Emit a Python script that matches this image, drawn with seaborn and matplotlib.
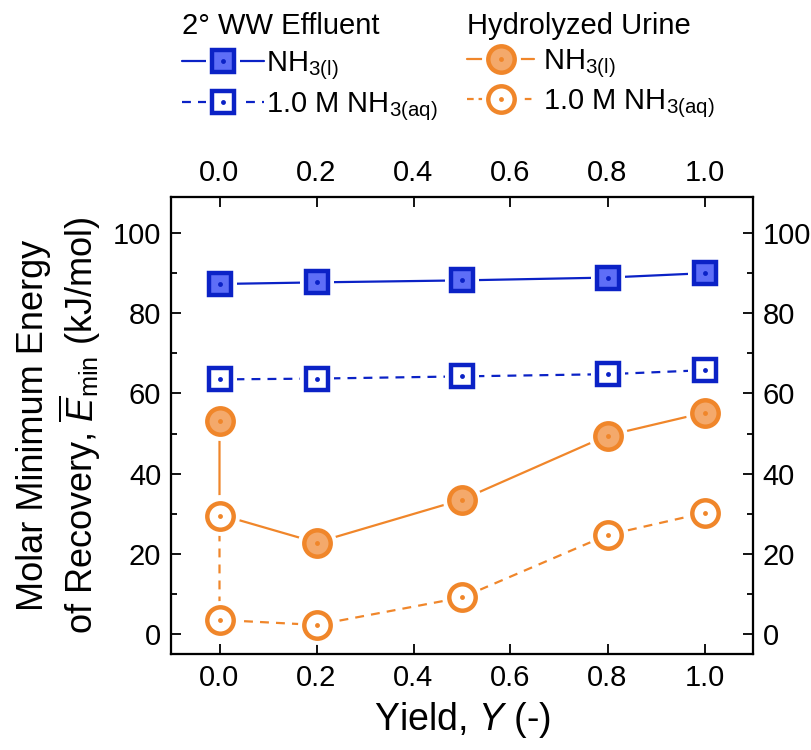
import matplotlib
matplotlib.use("Agg")
import matplotlib.pyplot as plt
import seaborn as sns
import pandas as pd
from matplotlib.lines import Line2D
from matplotlib.legend_handler import HandlerTuple
from matplotlib.ticker import MultipleLocator

# ---------------- data ----------------
ww_x = [0.0, 0.2, 0.5, 0.8, 1.0]
ww_liq = [87.3, 87.7, 88.2, 88.9, 90.0]
ww_aq = [63.5, 63.7, 64.25, 64.8, 65.8]

ur_liq_x = [0.0, 0.0, 0.2, 0.5, 0.8, 1.0]
ur_liq = [53.1, 29.8, 22.8, 33.5, 49.5, 55.2]
ur_aq_x = [0.0, 0.0, 0.2, 0.5, 0.8, 1.0]
ur_aq = [29.3, 3.5, 2.25, 9.1, 24.7, 30.2]

xticks = [0.0, 0.2, 0.4, 0.6, 0.8, 1.0]
yticks = [0, 20, 40, 60, 80, 100]

# ---------------- style ----------------
sns.set_theme(style="ticks")
plt.rcParams["font.family"] = ["Liberation Sans", "DejaVu Sans"]
plt.rcParams["mathtext.fontset"] = "custom"
plt.rcParams["mathtext.rm"] = "Liberation Sans"
plt.rcParams["mathtext.it"] = "Liberation Sans:italic"
plt.rcParams["mathtext.bf"] = "Liberation Sans:bold"
for k in ["text.color", "axes.labelcolor", "xtick.color", "ytick.color",
          "axes.edgecolor", "xtick.labelcolor", "ytick.labelcolor"]:
    plt.rcParams[k] = "black"

BLUE_E = "#0B22C6"
BLUE_F = "#5E6EF7"
OR_E = "#F0862A"
OR_F = "#F4A96B"

fig = plt.figure(figsize=(8.11, 7.5), dpi=100)
ax = fig.add_axes([171 / 811, 1 - 654 / 750, (753 - 171) / 811, (654 - 197) / 750])

LW = 1.6
DASH = (4.0, 3.2)
TICK_FS = 21

series = [
    dict(x=ww_x, y=ww_liq, ec=BLUE_E, fc=BLUE_F, m="s", ms=16, ls="solid"),
    dict(x=ww_x, y=ww_aq, ec=BLUE_E, fc="white", m="s", ms=16, ls="dashed"),
    dict(x=ur_liq_x, y=ur_liq, ec=OR_E, fc=OR_F, m="o", ms=19, ls="solid"),
    dict(x=ur_aq_x, y=ur_aq, ec=OR_E, fc="white", m="o", ms=19, ls="dashed"),
]
HALO = 9

z = 2
for s in series:
    df = pd.DataFrame({"x": s["x"], "y": s["y"]})
    sns.lineplot(data=df, x="x", y="y", sort=False, estimator=None, ax=ax,
                 color=s["ec"], lw=LW, zorder=z)
    line = ax.lines[-1]
    if s["ls"] == "dashed":
        line.set_dashes(DASH)
    # white halo for gap between line and marker
    ax.plot(s["x"], s["y"], ls="none", marker=s["m"], ms=s["ms"] + HALO,
            mfc="white", mec="white", mew=0, zorder=z + 0.1)
    ax.plot(s["x"], s["y"], ls="none", marker=s["m"], ms=s["ms"],
            mfc=s["fc"], mec=s["ec"], mew=3.2, zorder=z + 0.2)
    ax.plot(s["x"], s["y"], ls="none", marker="o", ms=3.5,
            mfc=s["ec"], mec=s["ec"], mew=0, zorder=z + 0.3)
    z += 1

ax.set_xlim(-0.1, 1.1)
ax.set_ylim(-5, 109)
ax.set_xticks(xticks)
ax.set_xticklabels([f"{t:.1f}" for t in xticks])
ax.set_yticks(yticks)
ax.yaxis.set_minor_locator(MultipleLocator(10))

ax.set_xlabel(r"Yield, $\it{Y}$ (-)", fontsize=27, labelpad=6)
ax.set_ylabel("Molar Minimum Energy\n" + r"of Recovery, $\overline{E}_{\mathrm{min}}$ (kJ/mol)",
              fontsize=26, labelpad=7, linespacing=1.15)

for sp in ax.spines.values():
    sp.set_linewidth(1.5)
    sp.set_color("black")
    sp.set_visible(True)

tick_kw = dict(direction="in", labelsize=TICK_FS, width=1.3, color="black")
ax.tick_params(axis="both", which="major", length=7, pad=7, **tick_kw)
ax.tick_params(axis="y", which="minor", length=4, width=1.3, direction="in", color="black")

axt = ax.twiny()
axt.set_xlim(ax.get_xlim())
axt.set_xticks(xticks)
axt.set_xticklabels([f"{t:.1f}" for t in xticks])
axt.tick_params(axis="x", which="major", length=7, pad=7, **tick_kw)
axt.grid(False)

axr = ax.twinx()
axr.set_ylim(ax.get_ylim())
axr.set_yticks(yticks)
axr.yaxis.set_minor_locator(MultipleLocator(10))
axr.tick_params(axis="y", which="major", length=7, pad=7, **tick_kw)
axr.tick_params(axis="y", which="minor", length=4, width=1.3, direction="in", color="black")
axr.grid(False)
for a in (axt, axr):
    for sp in a.spines.values():
        sp.set_linewidth(1.5)
        sp.set_color("black")


def make_handle(s, dash=DASH):
    ln = Line2D([], [], color=s["ec"], lw=LW)
    if s["ls"] == "dashed":
        ln.set_dashes(dash)
    halo = Line2D([], [], ls="none", marker=s["m"], ms=s["ms"] + HALO, mfc="white", mec="white", mew=0)
    mk = Line2D([], [], ls="none", marker=s["m"], ms=s["ms"], mfc=s["fc"], mec=s["ec"], mew=3.2)
    dot = Line2D([], [], ls="none", marker="o", ms=3.5, mfc=s["ec"], mec=s["ec"], mew=0)
    return (ln, halo, mk, dot)


labels = [r"NH$_{3(\mathrm{l})}$", r"1.0 M NH$_{3(\mathrm{aq})}$"]
common = dict(frameon=False, fontsize=21, title_fontsize=21, borderaxespad=0, borderpad=0,
              alignment="left", handler_map={tuple: HandlerTuple(ndivide=1)})

leg1 = fig.legend([make_handle(series[0]), make_handle(series[1])], labels,
                  title="2\u00b0 WW Effluent", loc="upper left",
                  handlelength=2.8, handletextpad=0.08, labelspacing=0.3,
                  bbox_to_anchor=(182 / 811, 1 - 12 / 750), **common)
leg2 = fig.legend([make_handle(series[2]), make_handle(series[3], dash=(3.0, 2.2))], labels,
                  title="Hydrolyzed Urine", loc="upper left",
                  handlelength=2.3, handletextpad=0.3, labelspacing=0.24,
                  bbox_to_anchor=(467 / 811, 1 - 12 / 750), **common)

fig.savefig("out.png", dpi=100)
